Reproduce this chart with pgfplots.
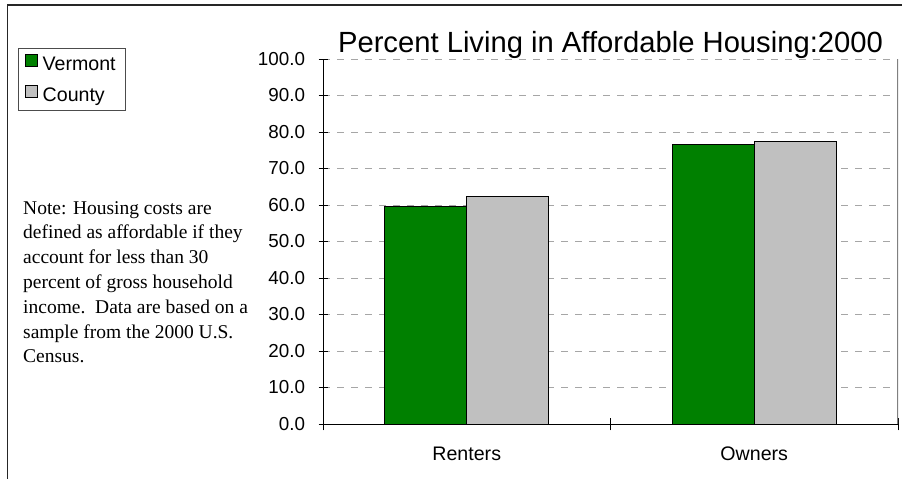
\documentclass[border=0pt]{standalone}
\usepackage{pgfplots}
\pgfplotsset{compat=1.18}
\usepackage{fontspec}
\setmainfont{Liberation Sans}
\newfontfamily\notefont{Liberation Serif}
\definecolor{vgreen}{RGB}{0,128,0}
\definecolor{cgray}{RGB}{192,192,192}
\begin{document}
\begin{tikzpicture}[x=1pt,y=1pt]
\path[use as bounding box] (0,0) rectangle (902,479);
\draw[line width=1.5pt, black!85] (7.5,0) -- (7.5,474) -- (902,474);
\node[anchor=base west, align=left, inner sep=0pt,
      font=\notefont\fontsize{19.5}{24.8}\selectfont] at (23,116)
 {Note: Housing costs are\\
  defined as affordable if they\\
  account for less than 30\\
  percent of gross household\\
  income.\ \ Data are based on a\\
  sample from the 2000 U.S.\\
  Census.};
\begin{axis}[
  at={(323pt,55pt)}, anchor=south west,
  width=575pt, height=365pt, scale only axis,
  ybar=0pt, bar width=82pt,
  xmin=-0.5, xmax=1.5, ymin=0, ymax=100,
  xtick={0,1}, xticklabels={Renters,Owners},
  minor xtick={-0.5,0.5,1.5},
  every major x tick/.style={draw=none},
  ytick={0,10,...,100},
  tick align=center,
  major tick length=9pt, minor tick length=13pt,
  tick style={black, line width=0.8pt},
  axis x line*=bottom, axis y line*=left,
  axis line style={-, black, line width=1pt},
  ymajorgrids,
  grid style={black!35, line width=0.8pt, dash pattern=on 7pt off 7pt},
  font=\fontsize{18.8}{22}\selectfont,
  /pgf/number format/assume math mode=true,
  yticklabel style={xshift=-10pt, /pgf/number format/fixed, /pgf/number format/fixed zerofill, /pgf/number format/precision=1},
  xticklabel style={yshift=-14pt, font=\fontsize{19.6}{22}\selectfont, text height=14pt, text depth=4pt},
  title={Percent Living in Affordable Housing:2000},
  title style={font=\fontsize{29.2}{34}\selectfont, at={(0.5,1)}, anchor=base, yshift=0pt},
  legend style={at={(-0.5313,1.0293)}, anchor=north west, draw=black!70, line width=0.8pt,
    font=\fontsize{19.6}{22}\selectfont, inner xsep=7.5pt, inner ysep=5.5pt, row sep=11pt,
    /tikz/every odd column/.append style={column sep=2.5pt}},
  legend cell align=left,
  legend image code/.code={\draw[#1, draw=black, line width=0.8pt] (0pt,-1.5pt) rectangle (12pt,10pt);},
]
\addplot[fill=vgreen, draw=black, line width=0.8pt] coordinates {(0,59.6) (1,76.7)};
\addplot[fill=cgray, draw=black, line width=0.8pt] coordinates {(0,62.4) (1,77.3)};
\legend{Vermont,County}
\draw[black!50, line width=1.2pt] (rel axis cs:1,0) -- (rel axis cs:1,1);
\end{axis}
\end{tikzpicture}
\end{document}
